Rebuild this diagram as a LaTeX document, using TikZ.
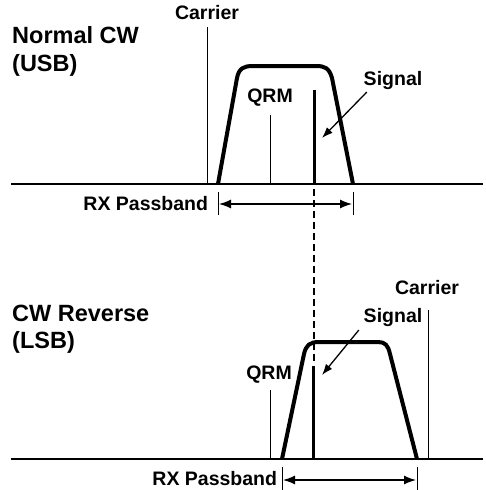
\documentclass[tikz,border=0pt]{standalone}
\usepackage{fontspec}
\setmainfont{Liberation Sans}
\usetikzlibrary{arrows.meta}

\tikzset{
  lbl/.style={inner sep=0.75pt, font=\fontsize{19.5}{21}\selectfont\bfseries},
  ttl/.style={anchor=west, inner sep=0pt, font=\fontsize{23.5}{26}\selectfont\bfseries},
  axisline/.style={line width=1.4},
  markline/.style={line width=1},
  filterline/.style={line width=4, line join=round},
  sigline/.style={line width=3},
  ptr/.style={-{Latex[length=11,width=8]}, line width=1.3},
  band/.style={{Latex[length=12,width=9]}-{Latex[length=12,width=9]}, line width=1.3},
}

\begin{document}
\begin{tikzpicture}[x=1pt,y=1pt,yscale=-1,xscale=1]
  \useasboundingbox (0,0) rectangle (485,490);

  % Normal CW (USB)
  \node [ttl] (usbttl) at (12,35) {Normal CW};
  \node [ttl] (usbsub) at (12,65) {(USB)};
  \coordinate (usbA) at (11,184);
  \coordinate (usbB) at (483,184);
  \draw [axisline] (usbA) -- (usbB);
  % carrier
  \node [lbl] (usbcar) at (207,13) {Carrier};
  \coordinate (usbcarT) at (207,27);
  \coordinate (usbcarB) at (207,184);
  \draw [markline] (usbcarT) -- (usbcarB);
  % filter
  \coordinate (usbfL) at (218,184);
  \coordinate (usbfR) at (353,184);
  \draw [filterline] (usbfL) -- (237,78) .. controls (239,68) and (244,66) .. (253,66)
        -- (316,66) .. controls (325,66) and (329,68) .. (332,78) -- (usbfR);
  % QRM
  \node [lbl] (usbqrm) at (270,98) {QRM};
  \coordinate (usbqrmT) at (270,115);
  \coordinate (usbqrmB) at (270,184);
  \draw [markline] (usbqrmT) -- (usbqrmB);
  % signal
  \node [lbl] (usbsig) at (393,80) {Signal};
  \coordinate (usbsigT) at (314,90);
  \coordinate (usbsigB) at (314,184);
  \draw [sigline] (usbsigT) -- (usbsigB);
  \coordinate (usbtip) at (322,138);
  \draw [ptr] (usbsig.south west) ++(4,2) -- (usbtip);
  % passband
  \node [lbl, anchor=east] (usbrx) at (209,204) {RX Passband};
  \coordinate (usbbL1) at (218,192);
  \coordinate (usbbL2) at (218,215);
  \coordinate (usbbR1) at (353,192);
  \coordinate (usbbR2) at (353,215);
  \draw [markline] (usbbL1) -- (usbbL2);
  \draw [markline] (usbbR1) -- (usbbR2);
  \coordinate (usbaL) at (219,204);
  \coordinate (usbaR) at (352,204);
  \draw [band] (usbaL) -- (usbaR);

  % dashed guide
  \coordinate (dashT) at (314,189);
  \coordinate (dashB) at (314,362);
  \draw [line width=1.5, dash pattern=on 7pt off 4pt] (dashT) -- (dashB);

  % CW Reverse (LSB)
  \node [ttl] (lsbttl) at (12,313) {CW Reverse};
  \node [ttl] (lsbsub) at (12,342) {(LSB)};
  \coordinate (lsbA) at (11,459);
  \coordinate (lsbB) at (483,459);
  \draw [axisline] (lsbA) -- (lsbB);
  % carrier
  \node [lbl] (lsbcar) at (427,288) {Carrier};
  \coordinate (lsbcarT) at (428,310);
  \coordinate (lsbcarB) at (428,459);
  \draw [markline] (lsbcarT) -- (lsbcarB);
  % filter
  \coordinate (lsbfL) at (282,459);
  \coordinate (lsbfR) at (417,459);
  \draw [filterline] (lsbfL) -- (304,354) .. controls (306,345) and (310,342) .. (319,342)
        -- (378,342) .. controls (385,342) and (388,345) .. (390,354) -- (lsbfR);
  % QRM
  \node [lbl] (lsbqrm) at (269,375) {QRM};
  \coordinate (lsbqrmT) at (270,390);
  \coordinate (lsbqrmB) at (270,459);
  \draw [markline] (lsbqrmT) -- (lsbqrmB);
  % signal
  \node [lbl] (lsbsig) at (393,317) {Signal};
  \coordinate (lsbsigT) at (313,366);
  \coordinate (lsbsigB) at (313,459);
  \draw [sigline] (lsbsigT) -- (lsbsigB);
  \coordinate (lsbtip) at (322,375);
  \draw [ptr] (lsbsig.south west) ++(-4,3) -- (lsbtip);
  % passband
  \node [lbl, anchor=east] (lsbrx) at (278,479) {RX Passband};
  \coordinate (lsbbL1) at (282,467);
  \coordinate (lsbbL2) at (282,490);
  \coordinate (lsbbR1) at (417,467);
  \coordinate (lsbbR2) at (417,490);
  \draw [markline] (lsbbL1) -- (lsbbL2);
  \draw [markline] (lsbbR1) -- (lsbbR2);
  \coordinate (lsbaL) at (283,480);
  \coordinate (lsbaR) at (416,480);
  \draw [band] (lsbaL) -- (lsbaR);
\end{tikzpicture}
\end{document}
